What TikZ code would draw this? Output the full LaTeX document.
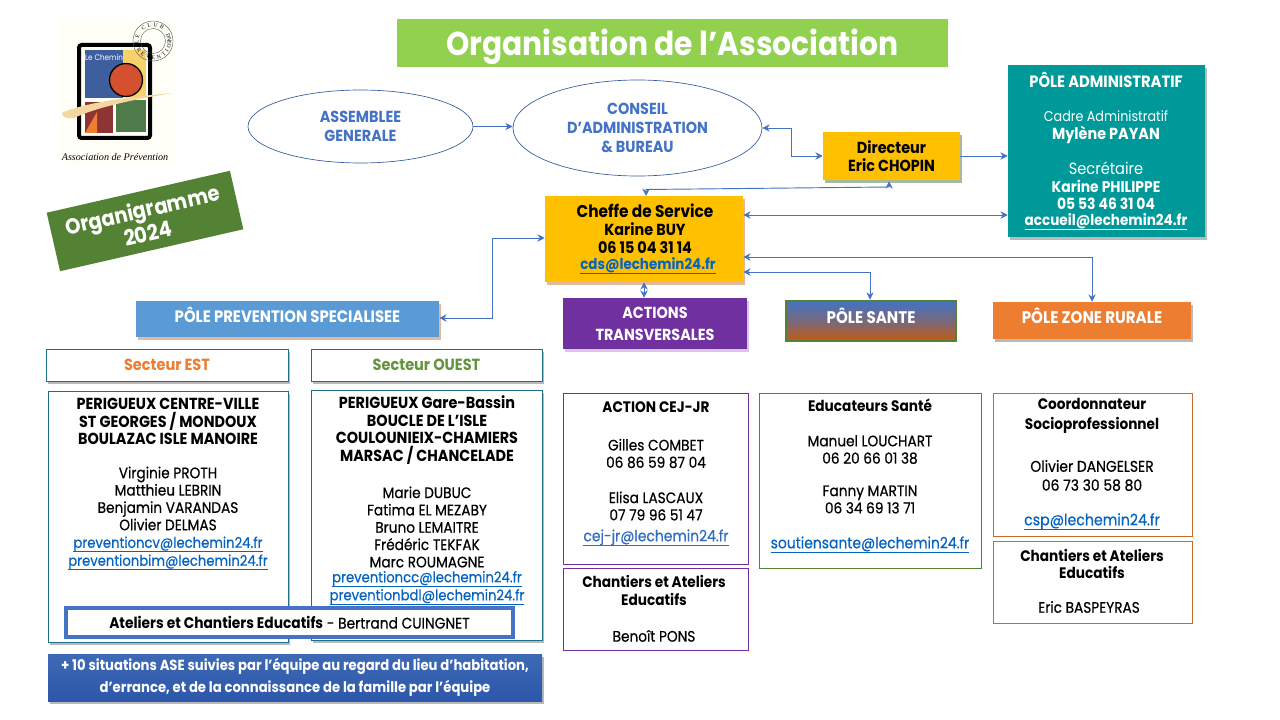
\documentclass[tikz,border=0pt]{standalone}
\usepackage{fontspec}
\setmainfont{Poppins}[FakeStretch=0.9]
\newfontfamily\medf{Poppins}[FakeStretch=0.9,FakeBold=0.5]
\newfontfamily\logofont{Liberation Serif}
\usetikzlibrary{shapes.geometric,shadows,arrows.meta,decorations.text}
\definecolor{cblue}{HTML}{4472C4}
\definecolor{cyellow}{HTML}{FFC000}
\definecolor{cteal}{HTML}{009999}
\definecolor{cpurple}{HTML}{7030A0}
\definecolor{corange}{HTML}{ED7D31}
\definecolor{csky}{HTML}{5B9BD5}
\definecolor{cgreen}{HTML}{548235}
\definecolor{ctitle}{HTML}{92D050}
\definecolor{clink}{HTML}{0563C1}
\definecolor{cline}{HTML}{1F6F8B}
\definecolor{cdorange}{HTML}{C55A11}
\definecolor{lgblue}{HTML}{3F5E9E}
\definecolor{lgyellow}{HTML}{F7D268}
\definecolor{lgred}{HTML}{D4502E}
\definecolor{lgdred}{HTML}{8E3434}
\definecolor{lggreen}{HTML}{4F7A4A}
\definecolor{lgbrush}{HTML}{F3D6A0}
\definecolor{asetop}{HTML}{3E69B4}
\definecolor{asemid}{HTML}{4A78CE}
\definecolor{asebot}{HTML}{2C57AB}
\newcommand\fs[2]{\fontsize{#1}{#2}\selectfont}
\newcommand\lnk[1]{\underline{\rule[-1.3pt]{0pt}{8pt}\smash{#1}}}
\newcommand\BX[7]{\pgfmathsetmacro\bw{(#4-#2)*0.75}\pgfmathsetmacro\bh{(#5-#3)*0.75}%
 \node[#6,minimum width=\bw pt,minimum height=\bh pt,inner sep=0pt] (#1) at ({(#2+#4)/2},{(#3+#5)/2}) {#7};}
\tikzset{
 x=0.75pt,y=-0.75pt,
 sh/.style={drop shadow={shadow xshift=1.6pt,shadow yshift=-2pt,fill=#1,opacity=.55}},
 sh/.default=gray,
 ell/.style={ellipse,draw=cblue!80!black,line width=.5pt,fill=white},
 flow/.style={draw=cblue,line width=.7pt,{Stealth[length=5.5pt,width=5.5pt]}-{Stealth[length=5.5pt,width=5.5pt]}},
 flowone/.style={draw=cblue,line width=.7pt,-{Stealth[length=5.5pt,width=5.5pt]}},
 txt/.style={align=center,inner sep=0pt,font=\medf\fs{11.4}{13}},
 btxt/.style={txt,font=\fs{11.4}{13}\bfseries},
 htxt/.style={txt,font=\fs{12}{13.3}\bfseries},
 wbox/.style={draw=#1,line width=.6pt,fill=white},
 pole/.style={text=white,align=center,font=\fs{12.6}{16}\bfseries},
 hlink/.style={txt,text=clink,font=\medf\fs{11}{13.5}},
}
\begin{document}
\begin{tikzpicture}
\useasboundingbox (0,0) rectangle (1280,720);
% logo
\fill[yellow!3!white] (60,20) rectangle (175,165);
\fill[lgblue] (85,50) rectangle (123,98);
\fill[lgyellow] (123,50) rectangle (146,97);
\fill[lggreen] (116,100) rectangle (146,132);
\fill[lgdred] (85,102) rectangle (113,133);
\fill[corange] (85,133) -- (97,112) -- (97,133) -- cycle;
\draw[black,line width=3pt,rounded corners=2pt] (79,45) rectangle (150,138);
\filldraw[fill=lgred,draw=black,line width=1pt] (126,80) circle[radius=16.5];
\fill[lgbrush] (62,113) .. controls (80,104) and (125,97) .. (173,93) .. controls (130,100) and (95,108) .. (74,118) .. controls (66,119) and (62,117) .. (62,113) -- cycle;
\node[text=white,font=\fs{6}{7},inner sep=0pt] (logoname) at (104,57) {Le Chemin};
\draw[gray!70!black,line width=.3pt] (153,41) circle[radius=20];
\draw[gray!70!black,line width=.3pt] (153,41) circle[radius=12.5];
\path[decorate,decoration={text along path,text align=fit to path,text={|\logofont\fontsize{4.2}{5}\selectfont|LE CLUB DE}}] (138.7,43.5) arc[start angle=170,end angle=370,radius=14.5];
\path[decorate,decoration={text along path,text align=fit to path,text={|\logofont\fontsize{4.2}{5}\selectfont|PREVENTION}}] (134.8,44.2) arc[start angle=170,end angle=-10,radius=18.5];
\node[font=\logofont\itshape\fontsize{7.6}{9}\selectfont,inner sep=0pt] (logosub) at (115,157) {Association de Prévention};
% title
\BX{title}{397}{19}{948}{67}{fill=ctitle}{}
\node[text=white,inner sep=0pt,font=\fs{24.8}{28}\bfseries] (titletext) at (672.5,47) {Organisation de l’Association};
% organigramme
\node[fill=cgreen,rotate=12.9,minimum width=141pt,minimum height=45pt,inner sep=0pt,align=center,text=white,font=\fs{16.3}{18}\bfseries] (orga) at (145,221) {Organigramme\\2024};
% ellipses
\BX{ag}{248}{90}{473}{163}{ell,align=center,text=cblue,font=\fs{12}{14}\bfseries}{ASSEMBLEE\\GENERALE}
\BX{ca}{513}{80}{762}{176}{ell,align=center,text=cblue,font=\fs{12}{14.2}\bfseries}{CONSEIL\\D’ADMINISTRATION\\\& BUREAU}
% main boxes
\BX{dir}{823}{132}{960}{180}{fill=cyellow,sh=cgreen!70!gray,align=center,font=\fs{12}{13.5}\bfseries}{Directeur\\Eric CHOPIN}
\BX{admin}{1008}{65}{1205}{237}{fill=cteal,sh}{}
\node[pole,inner sep=0pt,font=\fs{12.3}{13}\bfseries] (admint) at (1106,80) {PÔLE ADMINISTRATIF};
\node[txt,text=white,font=\fs{10.6}{12}] (admcadre) at (1106,116) {Cadre Administratif};
\node[txt,text=white,font=\fs{12}{13}\bfseries] (admmyl) at (1106,135) {Mylène PAYAN};
\node[txt,text=white,font=\fs{12.2}{13}] (admsec) at (1106,168) {Secrétaire};
\node[txt,text=white,font=\fs{11.6}{13}\bfseries] (admkar) at (1106,195) {Karine PHILIPPE\\05 53 46 31 04};
\node[txt,text=white,font=\fs{11.3}{13}\bfseries] (admmail) at (1106,223.5) {\lnk{accueil@lechemin24.fr}};
\BX{chef}{545}{196}{743}{282}{fill=cyellow,sh=corange!70!gray}{}
\node[txt,font=\fs{12}{13.3}\bfseries] (cheft) at (645,228.5) {\fs{12.8}{13.3}Cheffe de Service\\Karine BUY\\06 15 04 31 14};
\node[txt,font=\fs{11.2}{13}\bfseries,text=clink] (chefm) at (648,267.5) {\lnk{cds@lechemin24.fr}};
\BX{actions}{563}{298}{747}{349}{fill=cpurple,sh=cpurple!50!white,pole,font=\fs{12}{16.5}\bfseries}{\raisebox{-.8pt}{\parbox{130pt}{\centering ACTIONS\\TRANSVERSALES}}}
\BX{sante}{786}{301}{956}{341}{top color=cblue,bottom color=cdorange,middle color=cblue!60!cdorange,draw=cgreen,line width=2pt,pole}{\raisebox{8.5pt}{PÔLE SANTE}}
\BX{rurale}{993}{302}{1191}{339}{fill=corange,sh,pole}{\raisebox{7pt}{PÔLE ZONE RURALE}}
\BX{prev}{136}{301}{439}{337}{fill=csky,sh=corange!70!gray,pole,font=\fs{12.4}{14}\bfseries}{\raisebox{7pt}{PÔLE PREVENTION SPECIALISEE}}
% secteur
\BX{est}{46}{349}{288}{381}{wbox=cline,sh,text=corange,font=\fs{12.1}{14}\bfseries}{Secteur EST}
\BX{ouest}{311}{349}{542}{381}{wbox=cline,sh,text=cgreen!75!ctitle,font=\fs{12.1}{14}\bfseries}{Secteur OUEST}
\BX{bxest}{48}{391}{288}{642}{wbox=cline,sh}{}
\BX{bxouest}{311}{390}{542}{640}{wbox=cline,sh}{}
\node[htxt] (esth) at (168,421.5) {PERIGUEUX CENTRE-VILLE\\ST GEORGES / MONDOUX\\BOULAZAC ISLE MANOIRE};
\node[txt] (estn) at (168,498.5) {Virginie PROTH\\Matthieu LEBRIN\\Benjamin VARANDAS\\Olivier DELMAS};
\node[hlink] (estm) at (168,554.5) {\lnk{preventioncv@lechemin24.fr}\\\lnk{preventionbim@lechemin24.fr}};
\node[htxt] (ouesth) at (427,430) {PERIGUEUX Gare-Bassin\\BOUCLE DE L’ISLE\\COULOUNIEIX-CHAMIERS\\MARSAC / CHANCELADE};
\node[txt] (ouestn) at (427,527) {Marie DUBUC\\Fatima EL MEZABY\\Bruno LEMAITRE\\Frédéric TEKFAK\\Marc ROUMAGNE};
\node[hlink] (ouestm) at (427,589) {\lnk{preventioncc@lechemin24.fr}\\\lnk{preventionbdl@lechemin24.fr}};
\BX{atel}{66}{608}{513}{637}{draw=cblue,line width=2.4pt,fill=white,font=\medf\fs{11.5}{13}}{{\normalfont\bfseries Ateliers et Chantiers Educatifs} - Bertrand CUINGNET}
\BX{ase}{48}{654}{542}{701}{top color=asetop,middle color=asemid,bottom color=asebot,sh,text=white,align=center,font=\fs{11}{16.5}\bfseries}{+ 10 situations ASE suivies par l’équipe au regard du lieu d’habitation,\\d’errance, et de la connaissance de la famille par l’équipe}
% right columns
\BX{cej}{563}{393}{748}{564}{wbox=cpurple}{}
\node[btxt] (cejt) at (656,407) {ACTION CEJ-JR};
\node[txt] (cejg) at (656,453.5) {Gilles COMBET\\06 86 59 87 04};
\node[txt] (ceje) at (656,506) {Elisa LASCAUX\\07 79 96 51 47};
\node[hlink,text=cblue!70!clink,font=\medf\fs{11.6}{13}] (cejm) at (656,539) {\lnk{cej-jr@lechemin24.fr}};
\BX{chan}{563}{568}{748}{650}{wbox=cpurple}{}
\node[btxt] (chant) at (654,590.5) {Chantiers et Ateliers\\Educatifs};
\node[txt] (chann) at (654,636) {Benoît PONS};
\BX{educ}{759}{393}{981}{568}{wbox=cgreen}{}
\node[btxt] (educt) at (870,405) {Educateurs Santé};
\node[txt] (educm) at (870,449.5) {Manuel LOUCHART\\06 20 66 01 38};
\node[txt] (educf) at (870,499.5) {Fanny MARTIN\\06 34 69 13 71};
\node[hlink,font=\medf\fs{11.6}{13}] (educl) at (870,546) {\lnk{soutiensante@lechemin24.fr}};
\BX{coord}{993}{393}{1192}{536}{wbox=corange!85!black}{}
\node[btxt,font=\fs{11.4}{15}\bfseries] (coordt) at (1092,416) {Coordonnateur\\Socioprofessionnel};
\node[txt,font=\medf\fs{11.6}{14.2}] (coordn) at (1092,475.5) {Olivier DANGELSER\\06 73 30 58 80};
\node[hlink,font=\medf\fs{11.8}{13}] (coordm) at (1092,523) {\lnk{csp@lechemin24.fr}};
\BX{chan2}{993}{541}{1192}{623}{wbox=corange!85!black}{}
\node[btxt] (chan2t) at (1092,564) {Chantiers et Ateliers\\Educatifs};
\node[txt] (chan2n) at (1089,607) {Eric BASPEYRAS};
% connectors
\draw[flowone] (ag.east) -- (ca.west |- ag.east);
\draw[flow] (ca.east) -- (791,128) -- (791,156) -- (dir.west |- 0,156);
\draw[flowone] (dir.east |- 0,156) -- (admin.west |- 0,156);
\draw[flow] (dir.south -| 889,0) ++(0,1) -- (889,187) -- (646,189.5) -- (646,196);
\draw[flow] (chef.east |- 0,215) -- (admin.west |- 0,215);
\draw[flow] (chef.east |- 0,257) -- (1092,257) -- (rurale.north -| 1092,0);
\draw[flow] (chef.east |- 0,272) -- (870,272) -- (sante.north -| 870,0);
\draw[flow] (chef.south -| 644,0) -- (actions.north -| 644,0);
\draw[flow] (chef.west |- 0,238) -- (492,238) -- (492,318) -- (prev.east |- 0,318);
\end{tikzpicture}
\end{document}
